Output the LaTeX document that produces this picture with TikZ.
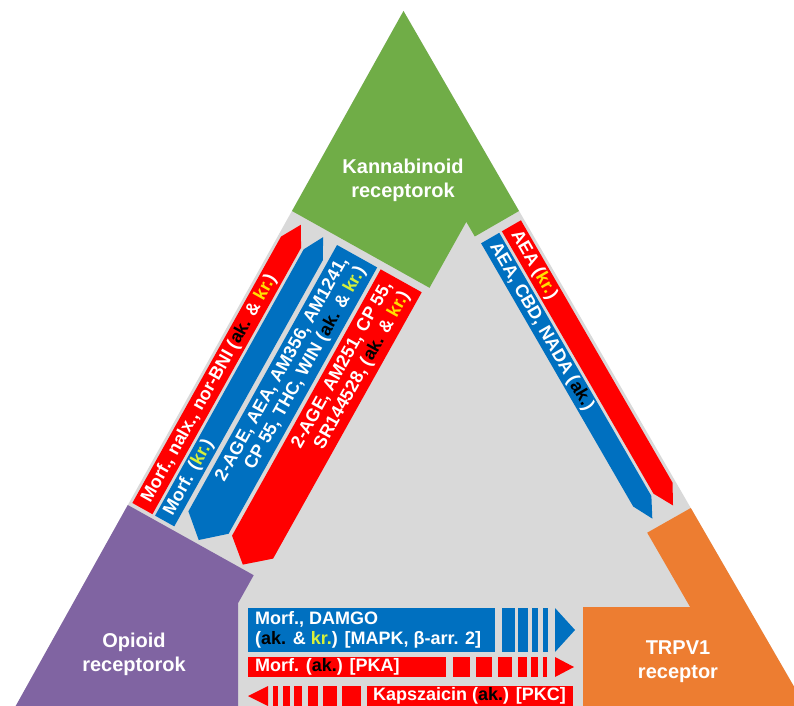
\documentclass[tikz,border=0pt]{standalone}
\usepackage{fontspec}
\setmainfont{Liberation Sans}
\definecolor{arrred}{HTML}{FF0000}
\definecolor{arrblue}{HTML}{0070C0}
\definecolor{kgreen}{HTML}{70AD47}
\definecolor{opurple}{HTML}{8064A2}
\definecolor{torange}{HTML}{ED7D31}
\definecolor{bggray}{HTML}{D9D9D9}
\definecolor{kryellow}{HTML}{FFE100}
\definecolor{krlime}{HTML}{D6F03A}
\newcommand{\akk}{\textcolor{black}{ak.}}
\newcommand{\krR}{\textcolor{kryellow}{kr.}}
\newcommand{\krB}{\textcolor{krlime}{kr.}}
\tikzset{every node/.append style={text=white, inner sep=0pt}}
\tikzset{corner/.style={font={\fontsize{20bp}{24bp}\selectfont\bfseries}, align=center}}
\tikzset{band/.style={font={\fontsize{18bp}{20bp}\selectfont\bfseries}}}

\begin{document}
\begin{tikzpicture}[x=1bp,y=-1bp]
  \path[use as bounding box] (0,0) rectangle (794,706);
  \clip (0,0) rectangle (794,706);
  \fill[white] (0,0) rectangle (794,706);
  \fill[bggray] (403.5,11) -- (7.9,720) -- (813.3,720) -- cycle;

  % corners
  \fill[kgreen] (403.5,11) -- (292,211) -- (429.5,287.8) -- (466.3,221.9)
  -- (474.8,236.5) -- (519,211) -- cycle;
  \fill[opurple] (127.8,505) -- (253.7,575.2) -- (238,603.3) -- (238,720)
  -- (7.9,720) -- cycle;
  \fill[torange] (690.8,508) -- (647.2,532.7) -- (690.1,607) -- (583,607)
  -- (583,720) -- (813.3,720) -- cycle;

  \node[corner] (kanna) at (403,180) {Kannabinoid\\receptorok};
  \node[corner] (opioid) at (134,654) {Opioid\\receptorok};
  \node[corner] (trpv) at (678,662) {TRPV1\\receptor};

  % opioid -- kannabinoid side
  \begin{scope}[shift={(127.8,505)}, x={(0.4873bp,0.8732bp)}, y={(0.8732bp,-0.4873bp)}]
    \fill[arrred] (4,3) -- (309,3) -- (329,14.5) -- (309,26) -- (4,26) -- cycle;
    \fill[arrblue] (4,29) -- (309,29) -- (329,40) -- (309,51) -- (4,51) -- cycle;
    \fill[arrblue] (329,56) -- (24,56) -- (4,79) -- (24,102) -- (329,102) -- cycle;
    \fill[arrred] (329,106) -- (24,106) -- (4,129.5) -- (24,153) -- (329,153) -- cycle;

    \node[band, rotate=60.83, anchor=west] (nalx) at (12,14.5)
    {Morf., nalx., nor-BNI (\akk{} \& \krR)};
    \node[band, rotate=60.83, anchor=west] (morfkr) at (12,40) {Morf. (\krB)};
    \node[band, rotate=60.83, anchor=east, align=right] (cbagon) at (321,79)
    {2-AGE, AEA, AM356, AM1241,\\CP 55, THC, WIN (\akk{} \& \krB)};
    \node[band, rotate=60.83, anchor=east, align=right] (cbanta) at (321,129.5)
    {2-AGE, AM251, CP 55,\\SR144528, (\akk{} \& \krR)};
  \end{scope}

  % kannabinoid -- TRPV1 side
  \begin{scope}[shift={(519,211)}, x={(0.5004bp,-0.8658bp)}, y={(-0.8658bp,-0.5004bp)}]
    \fill[arrred] (9,3) -- (312,3) -- (332,14) -- (312,25) -- (9,25) -- cycle;
    \fill[arrblue] (9,28) -- (313,28) -- (333,38.5) -- (313,49) -- (9,49) -- cycle;

    \node[band, rotate=-60, anchor=west] (aeakr) at (16,14) {AEA (\krR)};
    \node[band, rotate=-60, anchor=west] (aeaak) at (16,38.5) {AEA, CBD, NADA (\akk)};
  \end{scope}

  % opioid -- TRPV1 side
  \fill[arrblue] (248,608) rectangle (495,652);
  \foreach \a/\b in {502/515,518/528,532/538,543/548}
    \fill[arrblue] (\a,608) rectangle (\b,652);
  \fill[arrblue] (555,608) -- (575,630) -- (555,652) -- cycle;

  \fill[arrred] (248,657) rectangle (446,677);
  \foreach \a/\b in {453/470,476/492,498/512,518/527,531/538,543/547}
    \fill[arrred] (\a,657) rectangle (\b,677);
  \fill[arrred] (555,657) -- (574,667) -- (555,677) -- cycle;

  \fill[arrred] (268,686) -- (248,696) -- (268,706) -- cycle;
  \foreach \a/\b in {273/278,283/290,294/302,308/318,323/337,342/361}
    \fill[arrred] (\a,686) rectangle (\b,706);
  \fill[arrred] (367,686) rectangle (573,706);

  \node[band, anchor=west, align=left] (damgo) at (255,630)
  {Morf., DAMGO\\(\akk{} \& \krB) [MAPK, β-arr. 2]};
  \node[band, anchor=west] (pka) at (255,667) {Morf. (\akk) [PKA]};
  \node[band, anchor=east] (pkc) at (566,696) {Kapszaicin (\akk) [PKC]};

\end{tikzpicture}
\end{document}
